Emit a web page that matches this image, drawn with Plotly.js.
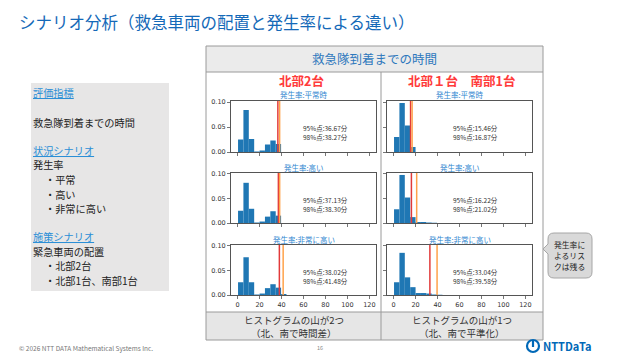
<!DOCTYPE html>
<html><head><meta charset="utf-8">
<script src="https://cdn.plot.ly/plotly-3.0.1.min.js"></script>
<style>html,body{margin:0;padding:0;background:#fff}#chart{width:640px;height:360px}</style>
</head><body><div id="chart"></div>
<script>
// ---- data ----
const rates = ['発生率:平常時', '発生率:高い', '発生率:非常に高い'];
const placements = ['北部2台', '北部１台　南部1台'];
const binCenters = [2.85, 7.75, 12.65, 17.55, 22.45, 27.35, 32.25, 37.15, 42.05];
const binWidth = 4.9;
const north2Normal   = [0.025, 0.084, 0.026, 0.001, 0.003, 0.015, 0.023, 0.016, 0];
const north2High     = [0.025, 0.082, 0.029, 0.001, 0.003, 0.013, 0.024, 0.015, 0];
const north2VeryHigh = [0.026, 0.077, 0.026, 0.001, 0.003, 0.014, 0.022, 0.015, 0.002];
const splitNormal    = [0.030, 0.098, 0.053, 0.010, 0, 0, 0, 0, 0];
const splitHigh      = [0.028, 0.098, 0.052, 0.012, 0.002, 0.002, 0.001, 0.0005, 0];
const splitVeryHigh  = [0.026, 0.086, 0.036, 0.016, 0.004, 0.004, 0.003, 0.001, 0.0005];
const p95North2 = [36.67, 37.13, 38.02];
const p98North2 = [38.27, 38.30, 41.48];
const p95Split  = [15.46, 16.22, 33.04];
const p98Split  = [16.87, 21.02, 39.58];
const xTicks = [0, 20, 40, 60, 80, 100, 120];
const yTicks = [0, 0.05, 0.10];
const bottomNotes = [['ヒストグラムの山が2つ', '（北、南で時間差）'], ['ヒストグラムの山が1つ', '（北、南で平準化）']];
const calloutLines = ['発生率に', 'よるリス', 'クは残る'];

// ---- layout helpers ----
const W = 640, H = 360;
const px = x => x / W, py = y => 1 - y / H;
const JP = '"Noto Sans CJK JP", "Noto Sans", sans-serif';
const colX = [[231, 376], [387, 532]];
const rowY = [[101, 152], [173, 223], [245, 295]];
const series = [[north2Normal, north2High, north2VeryHigh], [splitNormal, splitHigh, splitVeryHigh]];
const p95 = [p95North2, p95Split], p98 = [p98North2, p98Split];

const traces = [], shapes = [], annotations = [];
const layout = {
  width: W, height: H, margin: {l: 0, r: 0, t: 0, b: 0},
  paper_bgcolor: '#fff', plot_bgcolor: '#fff', showlegend: false,
  font: {family: JP, color: '#222'}
};

// background shapes
shapes.push({type: 'rect', xref: 'paper', yref: 'paper', layer: 'below', x0: px(31), x1: px(169), y0: py(291), y1: py(83), fillcolor: '#e7e6e6', line: {width: 0}});
shapes.push({type: 'rect', xref: 'paper', yref: 'paper', layer: 'below', x0: px(206), x1: px(543), y0: py(72), y1: py(46), fillcolor: '#ebebeb', line: {width: 0}});
shapes.push({type: 'rect', xref: 'paper', yref: 'paper', layer: 'below', x0: px(206), x1: px(543), y0: py(340), y1: py(312), fillcolor: '#e6e6e6', line: {width: 0}});
shapes.push({type: 'rect', xref: 'paper', yref: 'paper', layer: 'below', x0: px(206), x1: px(543), y0: py(340), y1: py(46), fillcolor: 'rgba(0,0,0,0)', line: {color: '#9a9a9a', width: 1}});
shapes.push({type: 'line', xref: 'paper', yref: 'paper', layer: 'below', x0: px(206), x1: px(543), y0: py(72), y1: py(72), line: {color: '#9a9a9a', width: 1}});
shapes.push({type: 'line', xref: 'paper', yref: 'paper', layer: 'below', x0: px(206), x1: px(543), y0: py(312), y1: py(312), line: {color: '#9a9a9a', width: 1}});
shapes.push({type: 'line', xref: 'paper', yref: 'paper', layer: 'below', x0: px(381), x1: px(381), y0: py(72), y1: py(340), line: {color: '#9a9a9a', width: 1}});

// callout
(function () {
  const x0 = 548, x1 = 592, y0 = 233, y1 = 278, r = 6;
  const P = (x, y) => px(x) + ',' + py(y);
  const d = 'M' + P(x0 + r, y0) + ' L' + P(x1 - r, y0) + ' Q' + P(x1, y0) + ' ' + P(x1, y0 + r) +
    ' L' + P(x1, y1 - r) + ' Q' + P(x1, y1) + ' ' + P(x1 - r, y1) +
    ' L' + P(x0 + r, y1) + ' Q' + P(x0, y1) + ' ' + P(x0, y1 - r) +
    ' L' + P(x0, 254) + ' L' + P(543, 249) + ' L' + P(x0, 244) +
    ' L' + P(x0, y0 + r) + ' Q' + P(x0, y0) + ' ' + P(x0 + r, y0) + ' Z';
  shapes.push({type: 'path', xref: 'paper', yref: 'paper', path: d, fillcolor: '#d9d9d9', line: {color: '#a6a6a6', width: 1}});
})();

// logo
shapes.push({type: 'circle', xref: 'paper', yref: 'paper', x0: px(527), x1: px(539), y0: py(352), y1: py(340), line: {color: '#0068b7', width: 2.2}, fillcolor: 'rgba(0,0,0,0)'});
shapes.push({type: 'line', xref: 'paper', yref: 'paper', x0: px(533), x1: px(533), y0: py(341), y1: py(347), line: {color: '#0068b7', width: 2.2}});

function ann(x, y, t, size, color, anchor, extra) {
  annotations.push(Object.assign({xref: 'paper', yref: 'paper', x: px(x), y: py(y), xanchor: anchor || 'left', yanchor: 'middle',
    showarrow: false, borderpad: 0, text: t, font: {size: size, color: color, family: JP}}, extra || {}));
}

// subplots
let idx = 0;
for (let c = 0; c < 2; c++) {
  for (let r = 0; r < 3; r++) {
    idx++;
    const xa = 'x' + idx, ya = 'y' + idx;
    const xk = idx === 1 ? 'xaxis' : 'xaxis' + idx, yk = idx === 1 ? 'yaxis' : 'yaxis' + idx;
    traces.push({type: 'bar', x: binCenters, y: series[c][r], width: binWidth, xaxis: xa, yaxis: ya,
      marker: {color: '#1f77b4', line: {width: 0}}, hoverinfo: 'skip'});
    const axCommon = {showline: true, mirror: true, linecolor: '#555', linewidth: 1, showgrid: false, zeroline: false,
      ticks: 'outside', ticklen: 3, tickwidth: 0.8, tickcolor: '#555', fixedrange: true,
      tickfont: {family: '"DejaVu Sans", sans-serif', size: 6.5, color: '#333'}};
    layout[xk] = Object.assign({}, axCommon, {domain: [px(colX[c][0]), px(colX[c][1])], anchor: ya,
      range: [-6, 126], tickvals: xTicks, ticktext: xTicks.map(String), showticklabels: r === 2});
    layout[yk] = Object.assign({}, axCommon, {domain: [py(rowY[r][1]), py(rowY[r][0])], anchor: xa,
      range: [0, 0.102], tickvals: yTicks, tickformat: '.2f', showticklabels: c === 0});
    shapes.push({type: 'line', xref: xa, yref: ya + ' domain', x0: p95[c][r], x1: p95[c][r], y0: 0, y1: 1, line: {color: '#e23a3a', width: 1.5}});
    shapes.push({type: 'line', xref: xa, yref: ya + ' domain', x0: p98[c][r], x1: p98[c][r], y0: 0, y1: 1, line: {color: '#ffa24a', width: 1.5}});
    const cx = (colX[c][0] + colX[c][1]) / 2;
    ann(cx, rowY[r][0] - 6, rates[r], 7.5, '#2f86d0', 'center');
    const tx = c === 0 ? 325 : 475;
    ann(tx, rowY[r][0] + 26.5, '95%点:' + p95[c][r].toFixed(2) + '分', 6.5, '#333', 'center');
    ann(tx, rowY[r][0] + 35.5, '98%点:' + p98[c][r].toFixed(2) + '分', 6.5, '#333', 'center');
  }
  ann(c === 0 ? 301 : 462, 81, '<b>' + placements[c] + '</b>', 12.5, '#ff3b3b', 'center');
  ann(c === 0 ? 293.5 : 462, 319.5, bottomNotes[c][0], 9.5, '#333', 'center');
  ann(c === 0 ? 293.5 : 462, 333, bottomNotes[c][1], 9.5, '#333', 'center');
}

// texts
ann(18, 22, 'シナリオ分析（救急車両の配置と発生率による違い）', 16.5, '#1469b8');
ann(374.5, 59, '救急隊到着までの時間', 12.5, '#2e78bd', 'center');
const u = s => '<span style="text-decoration:underline">' + s + '</span>';
const LB = 10.2;
ann(32, 93, u('評価指標'), LB, '#2b8fd6');
ann(32, 122, '救急隊到着までの時間', LB, '#222');
ann(32, 150.5, u('状況シナリオ'), LB, '#2b8fd6');
ann(32, 165, '発生率', LB, '#222');
ann(44, 179.5, '・平常', LB, '#222');
ann(44, 194, '・高い', LB, '#222');
ann(44, 208.5, '・非常に高い', LB, '#222');
ann(32, 236, u('施策シナリオ'), LB, '#2b8fd6');
ann(32, 251, '緊急車両の配置', LB, '#222');
ann(44, 265.5, '・北部2台', LB, '#222');
ann(44, 280, '・北部1台、南部1台', LB, '#222');
calloutLines.forEach((s, i) => ann(553, 244.5 + 11 * i, s, 7.8, '#222'));
ann(18, 348, '© 2026 NTT DATA Mathematical Systems Inc.', 6.5, '#777');
ann(320, 348, '16', 5.5, '#888', 'center');
ann(542, 346, '<b>NTTDaTa</b>', 11, '#0068b7');

layout.shapes = shapes;
layout.annotations = annotations;
Plotly.newPlot('chart', traces, layout, {staticPlot: true, displayModeBar: false});
</script></body></html>
